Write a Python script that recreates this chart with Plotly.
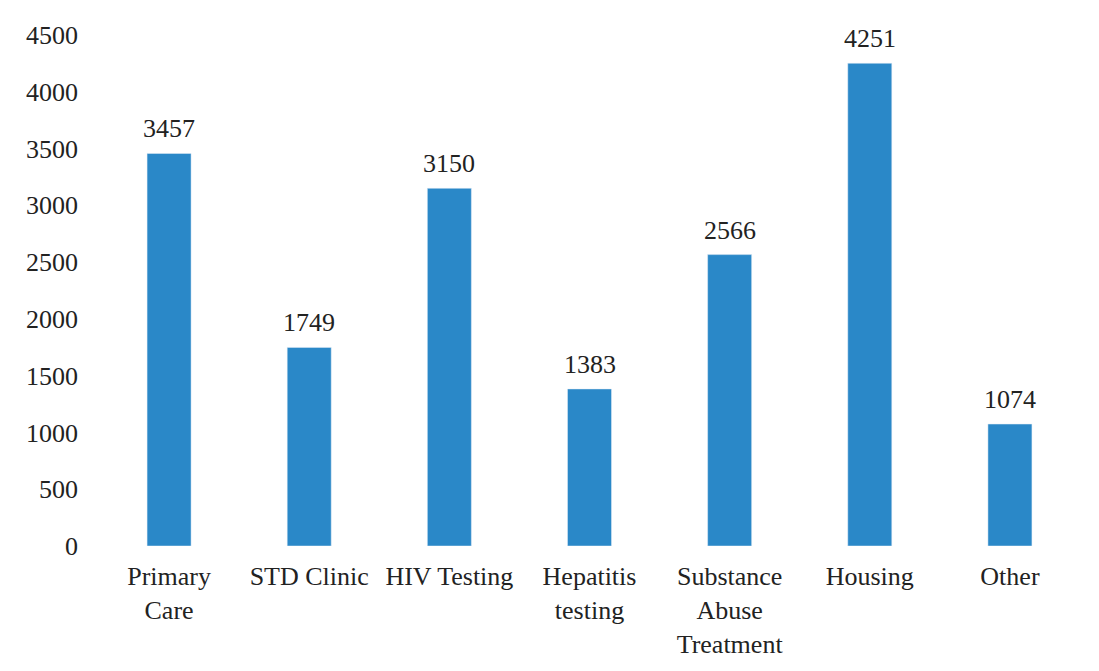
import plotly.graph_objects as go

categories = ["Primary<br>Care", "STD Clinic", "HIV Testing", "Hepatitis<br>testing",
              "Substance<br>Abuse<br>Treatment", "Housing", "Other"]
counts = [3457, 1749, 3150, 1383, 2566, 4251, 1074]
y_ticks = [0, 500, 1000, 1500, 2000, 2500, 3000, 3500, 4000, 4500]

FONT = dict(family="Liberation Serif, Times New Roman, serif", size=26, color="#222222")

fig = go.Figure()
fig.add_trace(
    go.Bar(
        x=categories,
        y=counts,
        marker_color="#2a88c8",
    )
)
# value labels sitting a little above each bar
for cat, val in zip(categories, counts):
    fig.add_annotation(
        x=cat, y=val, text=str(val), showarrow=False,
        yanchor="bottom", yshift=8, font=FONT,
    )

# the page body adds an 8px offset, margins account for it
fig.update_layout(
    width=1099,
    height=671,
    margin=dict(l=91, r=27, t=27, b=133),
    paper_bgcolor="white",
    plot_bgcolor="white",
    font=FONT,
    bargap=0.686,
    showlegend=False,
    xaxis=dict(showgrid=False, showline=False, ticks="", automargin=False, ticklabelstandoff=12),
    yaxis=dict(
        range=[0, 4500],
        tickvals=y_ticks,
        showgrid=False,
        zeroline=False,
        showline=False,
        ticks="",
        automargin=False,
        ticklabelstandoff=20,
    ),
)
fig.write_html("out.html")
